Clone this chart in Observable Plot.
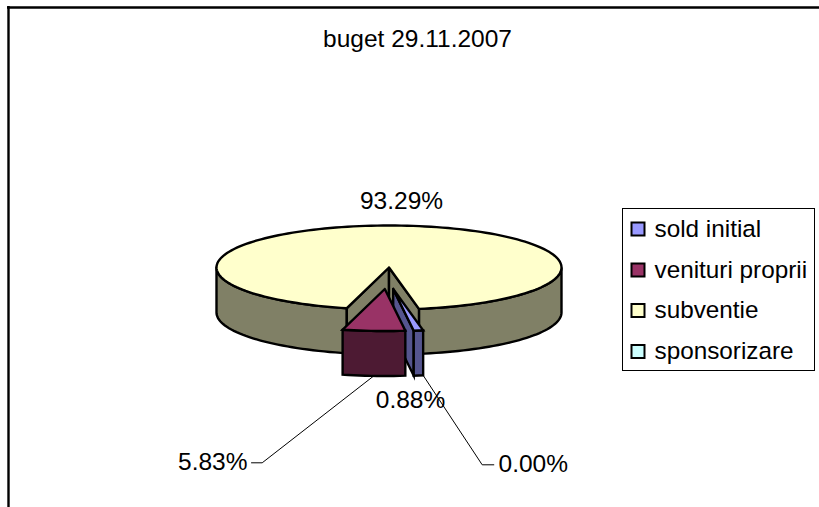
<!DOCTYPE html>
<html>
<head>
<meta charset="utf-8">
<style>html,body{margin:0;padding:0;background:#fff}svg{display:block}</style>
<script src="https://cdn.jsdelivr.net/npm/d3@7"></script>
<script src="https://cdn.jsdelivr.net/npm/@observablehq/plot@0.6"></script>
</head>
<body>
<script>
const categories = ["sold initial", "venituri proprii", "subventie", "sponsorizare"];
const shares = [0.88, 5.83, 93.29, 0.00];
const topColors = ["#9999FF", "#993366", "#FFFFCC", "#CCFFFF"];
const sideColors = ["#55558F", "#4D1A33", "#808066", "#668080"];
const titleText = "buget 29.11.2007";

const W = 819, H = 507;
const cx = 388.5, cy = 267, rx = 172.5, ry = 42, depth = 45;
const explode = {dx: 4.2, dy: 21.5};
const startDeg = 10;
const FONT = "Liberation Sans, Arial, sans-serif";

const rad = d => d * Math.PI / 180;
const total = d3.sum(shares);
let acc = startDeg;
const slices = shares.map((v, i) => {
  const a0 = acc; acc -= v / total * 360;
  return {i, a0, a1: acc};
});
const pt = (o, deg, down = 0) => ({x: o.x + rx * Math.sin(rad(deg)), y: o.y + ry * Math.cos(rad(deg)) + down});
const arc = (o, a0, a1, down = 0) => {
  const n = Math.max(2, Math.ceil(Math.abs(a1 - a0) / 2));
  return d3.range(n + 1).map(k => pt(o, a0 + (a1 - a0) * k / n, down));
};
const close = p => [...p, p[0]];
const wall = (o, a0, a1) => close([...arc(o, a0, a1), ...arc(o, a1, a0, depth)]);
const sector = (o, a0, a1) => close([o, ...arc(o, a0, a1)]);
const face = (o, a) => close([o, pt(o, a), pt(o, a, depth), {x: o.x, y: o.y + depth}]);
const poly = (p, fill) => Plot.line(p, {x: "x", y: "y", fill, stroke: "#000", strokeWidth: 2.4, strokeLinejoin: "miter", strokeMiterlimit: 6});

const body = {x: cx, y: cy};
const [sSold, sVen, sSub, sSpo] = slices;
const oSold = {x: cx + explode.dx, y: cy + explode.dy};
const oVen = {x: cx - explode.dx, y: cy + explode.dy};

const pieMarks = [
  // body, subventie
  poly(wall(body, -90, sSub.a0), sideColors[2]),
  poly(wall(body, sSub.a1 + 360, 90), sideColors[2]),
  poly(face(body, sSub.a0), sideColors[2]),
  poly(face(body, sSub.a1 + 360), sideColors[2]),
  poly(sector(body, sSub.a0, sSub.a1), topColors[2]),
  // sold initial
  poly(face(oSold, sSold.a1), sideColors[0]),
  poly(wall(oSold, sSold.a1, sSold.a0), sideColors[0]),
  poly(sector(oSold, sSold.a1, sSold.a0), topColors[0]),
  // venituri proprii
  poly(wall(oVen, sVen.a1, sVen.a0), sideColors[1]),
  poly(sector(oVen, sVen.a1, sVen.a0), topColors[1])
];

// leader lines start at the outer edge of their slice
const venMid = pt(oVen, (sVen.a0 + sVen.a1) / 2, depth);
const spoMid = pt(oSold, sSpo.a1 + 360, depth);
const leaders = [
  [venMid, {x: 261.7, y: 462.3}, {x: 251, y: 462.3}],
  [spoMid, {x: 481.7, y: 464.3}, {x: 493.3, y: 464.3}]
];

const pct = v => v.toFixed(2) + "%";
const labelsMiddle = [
  {text: pct(shares[2]), x: 401, y: 208},
  {text: pct(shares[0]), x: 410, y: 407}
];
const labelsEnd = [{text: pct(shares[1]), x: 247, y: 469}];
const labelsStart = [{text: pct(shares[3]), x: 498, y: 471}];

const legendY = [229, 270, 310.5, 351.5];
const legend = categories.map((name, i) => ({name, y: legendY[i], fill: topColors[i]}));

const labelOpts = {x: "x", y: "y", text: "text", fontSize: 24.5, lineAnchor: "bottom", fill: "#000"};

const chart = Plot.plot({
  width: W, height: H,
  margin: 0,
  x: {domain: [0, W], range: [0, W], axis: null},
  y: {domain: [0, H], range: [0, H], axis: null},
  style: {background: "#fff", fontFamily: FONT},
  marks: [
    Plot.ruleY([7], {x1: 7, x2: W, stroke: "#000", strokeWidth: 2.4}),
    Plot.ruleX([8], {y1: 6, y2: H, stroke: "#000", strokeWidth: 2.4}),
    Plot.text([titleText], {x: 417, y: 46, text: d => d, fontSize: 24.5, textAnchor: "middle", lineAnchor: "bottom", fill: "#000"}),
    ...pieMarks,
    ...leaders.map(l => Plot.line(l, {x: "x", y: "y", stroke: "#000", strokeWidth: 1})),
    Plot.text(labelsMiddle, {...labelOpts, textAnchor: "middle"}),
    Plot.text(labelsEnd, {...labelOpts, textAnchor: "end"}),
    Plot.text(labelsStart, {...labelOpts, textAnchor: "start"}),
    Plot.rect([{}], {x1: 622.5, x2: 814.5, y1: 208.5, y2: 370.5, fill: "#fff", stroke: "#000", strokeWidth: 1}),
    Plot.rect(legend, {x1: 631.5, x2: 644.5, y1: d => d.y - 6.5, y2: d => d.y + 6.5, fill: "fill", stroke: "#000", strokeWidth: 2}),
    Plot.text(legend, {x: 654, y: d => d.y + 7, text: "name", fontSize: 24.3, textAnchor: "start", lineAnchor: "bottom", fill: "#000"})
  ]
});
document.body.appendChild(chart);
</script>
</body>
</html>
